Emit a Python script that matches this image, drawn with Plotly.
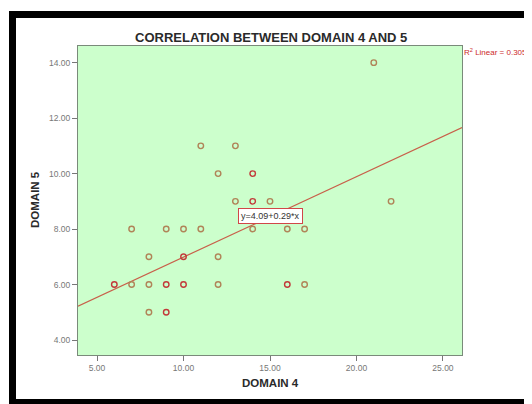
import plotly.graph_objects as go
from collections import Counter

# Data (duplicates = overlapping points)
domain4 = [21, 22, 11, 13, 12, 14, 14, 13, 14, 14, 15,
           7, 9, 10, 11, 14, 16, 17,
           8, 10, 10, 12,
           6, 6, 7, 8, 9, 9, 10, 10, 12, 16, 16, 17,
           8, 9, 9]
domain5 = [14, 9, 11, 11, 10, 10, 10, 9, 9, 9, 9,
           8, 8, 8, 8, 8, 8, 8,
           7, 7, 7, 7,
           6, 6, 6, 6, 6, 6, 6, 6, 6, 6, 6, 6,
           5, 5, 5]
intercept = 4.09
slope = 0.29
r2 = 0.305
x_ticks = [5, 10, 15, 20, 25]
y_ticks = [4, 6, 8, 10, 12, 14]
x_range = [3.9, 26.1]
y_range = [3.46, 14.6]

OFF = 8  # page body margin
W, H = 532 - OFF, 404 - OFF
L, R, T, B = 78 - OFF, 462 - OFF, 46 - OFF, 355 - OFF

counts = Counter(zip(domain4, domain5))
pts = list(counts.keys())
colors = ["#c23a3a" if counts[p] > 1 else "#b08458" for p in pts]

fig = go.Figure()
fig.add_trace(go.Scatter(
    x=[x_range[0], x_range[1]],
    y=[intercept + slope * x_range[0], intercept + slope * x_range[1]],
    mode="lines", line=dict(color="#c8604a", width=1.2),
    hoverinfo="skip", showlegend=False))
fig.add_trace(go.Scatter(
    x=[p[0] for p in pts], y=[p[1] for p in pts], mode="markers",
    marker=dict(symbol="circle-open", size=5.5, color=colors,
                line=dict(width=1.4, color=colors)),
    showlegend=False))

def px(xp):
    return (xp - OFF - L) / (R - L)

def py(yp):
    return (B - (yp - OFF)) / (B - T)

shapes = [
    dict(type="rect", xref="paper", yref="paper", x0=px(9), x1=px(16), y0=py(404), y1=py(11),
         fillcolor="black", line=dict(width=0), layer="above"),
    dict(type="rect", xref="paper", yref="paper", x0=px(9), x1=px(532), y0=py(18), y1=py(11),
         fillcolor="black", line=dict(width=0), layer="above"),
    dict(type="rect", xref="paper", yref="paper", x0=px(9), x1=px(532), y0=py(404), y1=py(399),
         fillcolor="black", line=dict(width=0), layer="above"),
]

font_main = "Arial, Liberation Sans, sans-serif"
annotations = [
    dict(text="<b>CORRELATION BETWEEN DOMAIN 4 AND 5</b>", xref="paper", yref="paper",
         x=px(271), y=py(37), xanchor="center", yanchor="middle", showarrow=False,
         font=dict(family=font_main, size=13, color="#2a2a2a")),
    dict(text="<b>DOMAIN 4</b>", xref="paper", yref="paper", x=px(270), y=py(383),
         xanchor="center", yanchor="middle",
         showarrow=False, font=dict(family=font_main, size=11.5, color="#2a2a2a")),
    dict(text="<b>DOMAIN 5</b>", xref="paper", yref="paper", x=px(35), y=py(200),
         xanchor="center", yanchor="middle",
         showarrow=False, textangle=-90, font=dict(family=font_main, size=11.5, color="#2a2a2a")),
    dict(text="R<sup>2</sup> Linear = %.3f" % r2, xref="paper", yref="paper", x=px(462), y=py(52),
         xanchor="left", yanchor="middle", showarrow=False,
         font=dict(family=font_main, size=8, color="#cc2a2a")),
    dict(text="y=%.2f+%.2f*x" % (intercept, slope), xref="x", yref="y", x=15.0, y=8.47,
         xanchor="center", yanchor="middle",
         showarrow=False, bgcolor="white", bordercolor="#d04848", borderwidth=1, borderpad=2,
         font=dict(family=font_main, size=9, color="#333333")),
]

axis_common = dict(showgrid=False, zeroline=False, showline=True, mirror=True,
                   linecolor="#7a8a7a", linewidth=1, ticks="outside", ticklen=5,
                   tickcolor="#777777", tickfont=dict(family=font_main, size=8.5, color="#777777"))

fig.update_layout(
    width=W, height=H,
    margin=dict(l=L, r=W - R, t=T, b=H - B),
    paper_bgcolor="white", plot_bgcolor="#ccffcc",
    xaxis=dict(range=x_range, tickvals=x_ticks, ticktext=["%.2f" % v for v in x_ticks], **axis_common),
    yaxis=dict(range=y_range, tickvals=y_ticks, ticktext=["%.2f" % v for v in y_ticks], **axis_common),
    shapes=shapes, annotations=annotations,
)

fig.write_html("out.html",
               post_script="document.documentElement.style.overflow='hidden';"
                           "document.body.style.overflow='hidden';")
